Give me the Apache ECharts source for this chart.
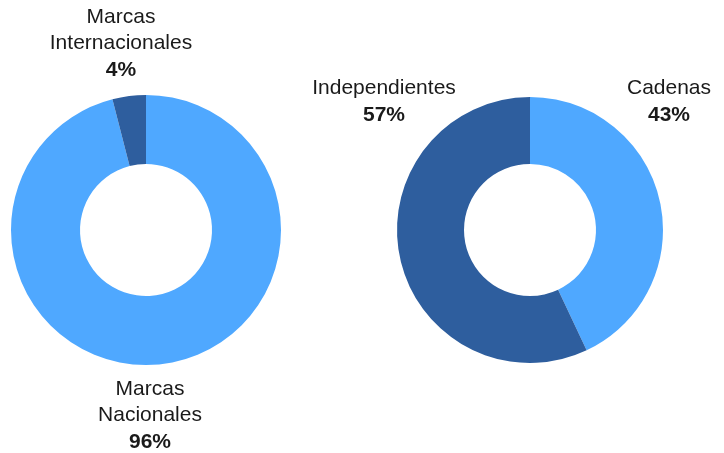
<!DOCTYPE html>
<html>
<head>
<meta charset="utf-8">
<script src="https://cdn.jsdelivr.net/npm/echarts@6/dist/echarts.min.js"></script>
<style>
html,body{margin:0;padding:0;background:#fff;}
#c{width:724px;height:453px;}
</style>
</head>
<body>
<div id="c"></div>
<script>
// Data
const brandCategories = ['Marcas Nacionales', 'Marcas Internacionales'];
const brandValues = [96, 4];
const storeCategories = ['Cadenas', 'Independientes'];
const storeValues = [43, 57];

const LIGHT = '#4FA8FF';
const DARK = '#2E5E9E';
const FONT = 'Liberation Sans, Arial, sans-serif';

const chart = echarts.init(document.getElementById('c'), null, {renderer: 'canvas'});

function labelText(name, value) {
  return name.split(' ').map(s => '{n|' + s + '}').join('\n') + '\n{p|' + value + '%}';
}
const rich = {
  n: {fontSize: 21, fontFamily: FONT, color: '#1a1a1a', lineHeight: 26},
  p: {fontSize: 21, fontFamily: FONT, color: '#1a1a1a', fontWeight: 'bold', lineHeight: 27}
};
function textEl(x, y, name, value) {
  return {
    type: 'text', x: x, y: y, silent: true,
    style: {text: labelText(name, value), rich: rich, align: 'center', verticalAlign: 'middle', fill: '#1a1a1a', fontFamily: FONT, fontSize: 21}
  };
}

chart.setOption({
  animation: false,
  backgroundColor: '#fff',
  series: [
    {
      type: 'pie',
      center: [146, 230],
      radius: [66, 135],
      startAngle: 90,
      clockwise: true,
      label: {show: false},
      labelLine: {show: false},
      emphasis: {disabled: true},
      itemStyle: {borderWidth: 0},
      data: brandCategories.map((n, i) => ({name: n, value: brandValues[i], itemStyle: {color: i === 0 ? LIGHT : DARK}}))
    },
    {
      type: 'pie',
      center: [530, 230],
      radius: [66, 133],
      startAngle: 90,
      clockwise: true,
      label: {show: false},
      labelLine: {show: false},
      emphasis: {disabled: true},
      itemStyle: {borderWidth: 0},
      data: storeCategories.map((n, i) => ({name: n, value: storeValues[i], itemStyle: {color: i === 0 ? LIGHT : DARK}}))
    }
  ],
  graphic: [
    textEl(150, 416, brandCategories[0], brandValues[0]),
    textEl(121, 44, brandCategories[1], brandValues[1]),
    textEl(669, 102, storeCategories[0], storeValues[0]),
    textEl(384, 102, storeCategories[1], storeValues[1])
  ]
});
</script>
</body>
</html>
